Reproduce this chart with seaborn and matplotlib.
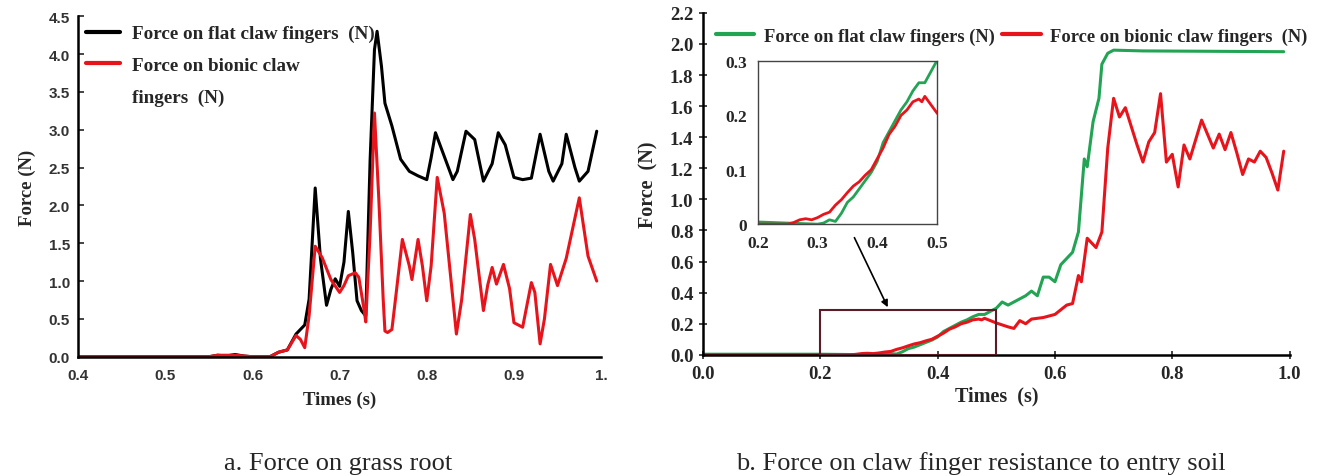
import matplotlib
matplotlib.use('Agg')
import matplotlib.pyplot as plt
import seaborn as sns
from matplotlib.patches import Rectangle
from matplotlib.lines import Line2D

# --- data (a): force on grass root ---
t_flat_a = [0.40, 0.55, 0.56, 0.57, 0.58, 0.59, 0.60, 0.62, 0.63, 0.64, 0.65, 0.66, 0.665,
            0.672, 0.678, 0.685, 0.69, 0.695, 0.70, 0.705, 0.71, 0.715, 0.72, 0.725, 0.73,
            0.735, 0.74, 0.743, 0.748, 0.752, 0.76, 0.765, 0.77, 0.78, 0.79, 0.80, 0.805,
            0.81, 0.82, 0.83, 0.835, 0.845, 0.855, 0.865, 0.875, 0.882, 0.89, 0.90, 0.91,
            0.92, 0.93, 0.94, 0.945, 0.955, 0.96, 0.97, 0.975, 0.985, 0.995]
f_flat_a = [0.0, 0.0, 0.02, 0.01, 0.03, 0.01, 0.0, 0.0, 0.06, 0.09, 0.30, 0.42, 0.76,
            2.23, 1.30, 0.68, 0.89, 1.03, 0.93, 1.25, 1.92, 1.38, 0.74, 0.61, 0.54,
            2.60, 4.06, 4.30, 3.84, 3.35, 3.05, 2.83, 2.61, 2.45, 2.39, 2.34, 2.63,
            2.96, 2.65, 2.34, 2.45, 2.98, 2.87, 2.32, 2.55, 2.96, 2.80, 2.37, 2.34,
            2.36, 2.94, 2.45, 2.32, 2.55, 2.94, 2.50, 2.32, 2.45, 2.98]

t_bion_a = [0.40, 0.55, 0.56, 0.58, 0.60, 0.62, 0.63, 0.64, 0.65, 0.655, 0.66, 0.665,
            0.672, 0.68, 0.69, 0.70, 0.705, 0.71, 0.718, 0.722, 0.728, 0.73, 0.735, 0.74,
            0.745, 0.75, 0.752, 0.755, 0.76, 0.765, 0.772, 0.78, 0.783, 0.79, 0.795, 0.80,
            0.805, 0.812, 0.82, 0.83, 0.834, 0.84, 0.85, 0.855, 0.865, 0.87, 0.875, 0.88,
            0.888, 0.895, 0.90, 0.91, 0.92, 0.924, 0.93, 0.935, 0.942, 0.95, 0.96, 0.975,
            0.985, 0.995]
f_bion_a = [0.0, 0.0, 0.02, 0.02, 0.0, 0.0, 0.06, 0.09, 0.28, 0.23, 0.12, 0.54,
            1.46, 1.31, 1.02, 0.85, 0.94, 1.07, 1.11, 1.05, 0.63, 0.46, 1.64, 3.22,
            2.08, 0.76, 0.34, 0.32, 0.36, 0.85, 1.55, 1.20, 1.02, 1.55, 1.20, 0.74,
            1.20, 2.37, 1.90, 0.76, 0.30, 0.75, 1.88, 1.55, 0.61, 0.95, 1.18, 0.96,
            1.22, 0.90, 0.45, 0.39, 0.98, 0.85, 0.17, 0.50, 1.22, 0.94, 1.30, 2.10,
            1.33, 1.00]

# --- data (b): claw finger resistance to entry soil ---
t_flat_b = [0.0, 0.20, 0.30, 0.31, 0.32, 0.33, 0.34, 0.35, 0.36, 0.37, 0.38, 0.39, 0.40,
            0.41, 0.42, 0.43, 0.44, 0.45, 0.46, 0.47, 0.48, 0.49, 0.50, 0.51, 0.52, 0.55,
            0.56, 0.57, 0.58, 0.59, 0.60, 0.61, 0.63, 0.64, 0.65, 0.655, 0.665, 0.675,
            0.68, 0.69, 0.70, 0.75, 0.99]
f_flat_b = [0.004, 0.004, 0.0, 0.002, 0.008, 0.005, 0.02, 0.04, 0.05, 0.065, 0.08, 0.095, 0.115,
            0.15, 0.17, 0.19, 0.21, 0.225, 0.245, 0.26, 0.26, 0.28, 0.30, 0.34, 0.32, 0.38,
            0.41, 0.38, 0.50, 0.50, 0.47, 0.58, 0.66, 0.79, 1.26, 1.21, 1.50, 1.65,
            1.87, 1.94, 1.96, 1.955, 1.95]

t_bion_b = [0.0, 0.25, 0.26, 0.27, 0.28, 0.29, 0.30, 0.31, 0.32, 0.33, 0.34, 0.35, 0.36,
            0.37, 0.38, 0.39, 0.40, 0.41, 0.42, 0.43, 0.44, 0.45, 0.46, 0.47, 0.475, 0.48,
            0.49, 0.50, 0.52, 0.53, 0.54, 0.55, 0.56, 0.58, 0.60, 0.62, 0.63, 0.64, 0.645,
            0.655, 0.67, 0.68, 0.69, 0.70, 0.71, 0.72, 0.74, 0.75, 0.76, 0.77, 0.78, 0.79,
            0.80, 0.81, 0.82, 0.83, 0.85, 0.86, 0.87, 0.88, 0.89, 0.90, 0.91, 0.92, 0.93,
            0.94, 0.95, 0.96, 0.97, 0.98, 0.99]
f_bion_b = [0.0, 0.0, 0.003, 0.008, 0.01, 0.008, 0.012, 0.018, 0.022, 0.035, 0.045, 0.058, 0.07,
            0.078, 0.09, 0.10, 0.12, 0.14, 0.165, 0.18, 0.20, 0.21, 0.225, 0.23, 0.225, 0.235,
            0.22, 0.205, 0.18, 0.17, 0.22, 0.20, 0.23, 0.24, 0.26, 0.32, 0.33, 0.51, 0.47,
            0.75, 0.69, 0.79, 1.33, 1.65, 1.53, 1.59, 1.35, 1.24, 1.37, 1.43, 1.68, 1.24,
            1.29, 1.08, 1.35, 1.26, 1.51, 1.42, 1.33, 1.42, 1.32, 1.43, 1.30, 1.16, 1.26,
            1.24, 1.31, 1.27, 1.17, 1.06, 1.31]

ticks_a = [0.4, 0.5, 0.6, 0.7, 0.8, 0.9, 1.0]
ticklabels_a = ['0.4', '0.5', '0.6', '0.7', '0.8', '0.9', '1.']

sns.set_style('white')
plt.rcParams['font.family'] = ['Liberation Serif', 'DejaVu Serif']

BLACK = '#000000'
RED = '#e8141c'
GREEN = '#22a454'
serif_b = dict(family='Liberation Serif', weight='bold')

fig = plt.figure(figsize=(13.24, 4.77), dpi=100)

# ---------- panel a ----------
ax1 = fig.add_axes([0.059, 0.25, 0.395, 0.714])
sns.lineplot(x=t_flat_a, y=f_flat_a, ax=ax1, color=BLACK, lw=2.2, sort=False)
sns.lineplot(x=t_bion_a, y=f_bion_a, ax=ax1, color=RED, lw=2.2, sort=False)
ax1.set_xlim(0.4, 1.0)
ax1.set_ylim(0, 4.5)
ax1.set_yticks([0, 0.5, 1.0, 1.5, 2.0, 2.5, 3.0, 3.5, 4.0, 4.5])
ax1.set_yticklabels([f'{v:.1f}' for v in ax1.get_yticks()])
ax1.set_xticks(ticks_a)
ax1.set_xticklabels(ticklabels_a)
for lab in ax1.get_xticklabels() + ax1.get_yticklabels():
    lab.set_fontfamily('Liberation Sans')
    lab.set_fontweight('bold')
    lab.set_fontsize(11)
    lab.set_color('#333333')
ax1.tick_params(axis='y', direction='in', length=4, width=1.2, left=True, pad=6)
ax1.tick_params(axis='x', length=0, pad=8)
sns.despine(ax=ax1)
for s in ['left', 'bottom']:
    ax1.spines[s].set_linewidth(1.8)
    ax1.spines[s].set_color('black')
ax1.set_xlabel('Times (s)', fontsize=13.5, labelpad=6, **serif_b)
ax1.set_ylabel('Force (N)', fontsize=13.5, labelpad=9, **serif_b)
h1 = [Line2D([], [], color=BLACK, lw=3), Line2D([], [], color=RED, lw=3), Line2D([], [], lw=0)]
ax1.legend(h1, ['Force on flat claw fingers  (N)', 'Force on bionic claw', 'fingers  (N)'],
           loc='upper left', bbox_to_anchor=(-0.017, 1.025), frameon=False,
           prop=dict(family='Liberation Serif', weight='bold', size=13.8),
           handlelength=1.75, handletextpad=0.6, labelspacing=0.75)

# ---------- panel b ----------
ax2 = fig.add_axes([0.531, 0.254, 0.443, 0.717])
sns.lineplot(x=t_flat_b, y=f_flat_b, ax=ax2, color=GREEN, lw=2.2, sort=False)
sns.lineplot(x=t_bion_b, y=f_bion_b, ax=ax2, color=RED, lw=2.2, sort=False)
ax2.set_xlim(0, 1.0)
ax2.set_ylim(0, 2.2)
ax2.set_xticks([0, 0.2, 0.4, 0.6, 0.8, 1.0])
ax2.set_xticklabels(['0.0', '0.2', '0.4', '0.6', '0.8', '1.0'])
ax2.set_yticks([round(0.2 * i, 1) for i in range(12)])
ax2.set_yticklabels([f'{0.2 * i:.1f}' for i in range(12)])
for lab in ax2.get_xticklabels() + ax2.get_yticklabels():
    lab.set_fontweight('bold')
    lab.set_fontsize(13.5)
ax2.tick_params(axis='both', direction='inout', length=6, width=1.2, left=True, bottom=True, pad=4)
sns.despine(ax=ax2)
for s in ['left', 'bottom']:
    ax2.spines[s].set_linewidth(1.8)
    ax2.spines[s].set_color('black')
ax2.set_xlabel('Times  (s)', fontsize=14.5, labelpad=3, **serif_b)
ax2.set_ylabel('Force  (N)', fontsize=14.5, labelpad=8, **serif_b)
ax2.add_patch(Rectangle((0.2, 0.0), 0.3, 0.29, fill=False, edgecolor='#5a1c28', lw=1.5, zorder=5))
ax2.annotate('', xy=(0.317, 0.29), xytext=(0.256, 0.77),
             arrowprops=dict(arrowstyle='-|>', color='black', lw=1.2, mutation_scale=10))
h2 = [Line2D([], [], color=GREEN, lw=3), Line2D([], [], color=RED, lw=3)]
fig.legend(h2, ['Force on flat claw fingers (N)', 'Force on bionic claw fingers  (N)'],
           loc='upper left', bbox_to_anchor=(0.528, 0.975), ncol=2, frameon=False,
           prop=dict(family='Liberation Serif', weight='bold', size=13.3),
           handlelength=2.1, handletextpad=0.5, columnspacing=0.4)

# inset
axi = fig.add_axes([0.5725, 0.528, 0.135, 0.342])
sns.lineplot(x=t_flat_b, y=f_flat_b, ax=axi, color=GREEN, lw=2.0, sort=False)
sns.lineplot(x=t_bion_b, y=f_bion_b, ax=axi, color=RED, lw=2.0, sort=False)
axi.set_xlim(0.2, 0.5)
axi.set_ylim(0, 0.3)
axi.set_xticks([0.2, 0.3, 0.4, 0.5])
axi.set_xticklabels(['0.2', '0.3', '0.4', '0.5'])
axi.set_yticks([0, 0.1, 0.2, 0.3])
axi.set_yticklabels(['0', '0.1', '0.2', '0.3'])
for lab in axi.get_xticklabels() + axi.get_yticklabels():
    lab.set_fontweight('bold')
    lab.set_fontsize(12.5)
axi.tick_params(length=0, pad=8)
for s in axi.spines.values():
    s.set_visible(True)
    s.set_linewidth(1.0)
    s.set_color('#444444')

# captions
fig.text(0.2556, 0.015, 'a. Force on grass root', ha='center', fontsize=19)
fig.text(0.741, 0.015, 'b. Force on claw finger resistance to entry soil', ha='center', fontsize=19)

fig.savefig('out.png', dpi=100)
